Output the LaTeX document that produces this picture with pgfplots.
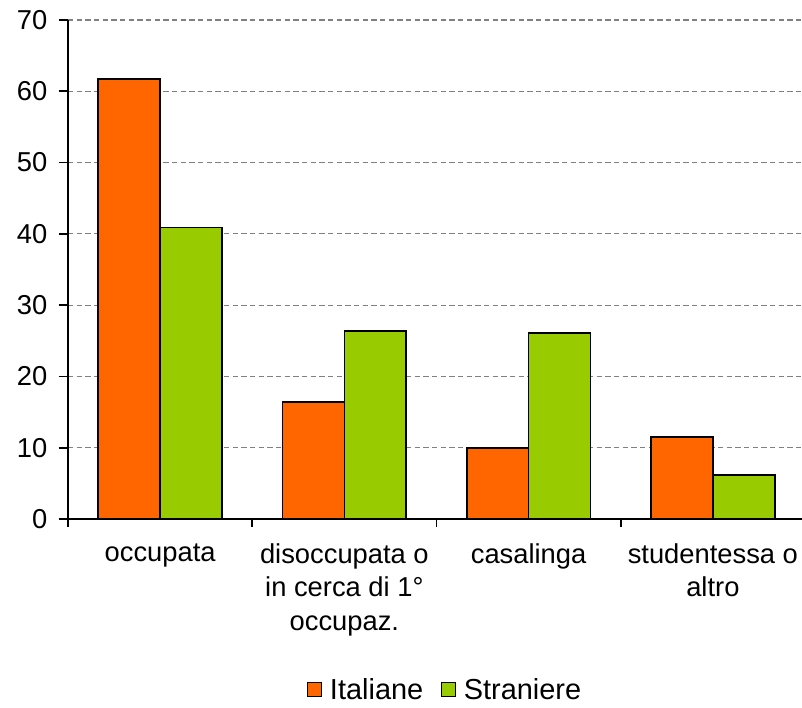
\documentclass[border=0pt]{standalone}
\usepackage{pgfplots}
\pgfplotsset{compat=1.18}
\usepackage{fontspec}
\setmainfont{Liberation Sans}
\definecolor{ita}{HTML}{FF6600}
\definecolor{stra}{HTML}{99CC00}
\definecolor{gridc}{HTML}{808080}
\begin{document}
\begin{tikzpicture}
\begin{axis}[
  name=ax,
  scale only axis,
  width=552.75pt, height=374.25pt,
  ybar=0pt,
  bar width=0.336,
  xmin=-0.5, xmax=3.5,
  ymin=0, ymax=70,
  ytick={0,10,...,70},
  axis lines*=left,
  axis line style={line width=1.4pt},
  tick style={line width=1.2pt, black},
  tick align=outside,
  major tick length=7pt,
  minor tick length=6pt,
  xtick={0,1,2,3},
  xticklabels={occupata,{disoccupata o\\in cerca di 1°\\occupaz.},casalinga,{studentessa o\\altro}},
  x tick style={draw=none},
  minor xtick={-0.5,0.5,1.5,2.5,3.5},
  minor x tick style={draw=black, line width=1.2pt},
  ymajorgrids,
  major grid style={gridc, line width=0.9pt, dash pattern=on 4pt off 2.5pt},
  /pgf/number format/assume math mode=true,
  tick label style={font=\fontsize{20.5}{25}\selectfont},
  xticklabel style={align=center, yshift=-8pt},
  yticklabel style={xshift=-5pt},
  every axis plot/.append style={draw=black, line width=1.2pt},
  legend style={
    at={(axis description cs:0.512,-0.342)}, anchor=center,
    draw=none, legend columns=2, inner sep=0pt,
    font=\fontsize{21.7}{24}\selectfont,
    /tikz/every even column/.append style={column sep=11pt},
  },
  legend image code/.code={\draw[#1, line width=1.1pt] (0pt,-5.25pt) rectangle (10.5pt,5.25pt); \path (14.25pt,0pt);},
]
\addplot[fill=ita] coordinates {(0,61.7) (1,16.4) (2,10.0) (3,11.5)};
\addplot[fill=stra] coordinates {(0,40.9) (1,26.4) (2,26.1) (3,6.2)};
\legend{Italiane,Straniere}
\end{axis}
\pgfresetboundingbox
\path[use as bounding box] ([xshift=-51pt,yshift=-141.75pt]ax.south west) rectangle ([xshift=-2.25pt,yshift=15pt]ax.north east);
\end{tikzpicture}
\end{document}
